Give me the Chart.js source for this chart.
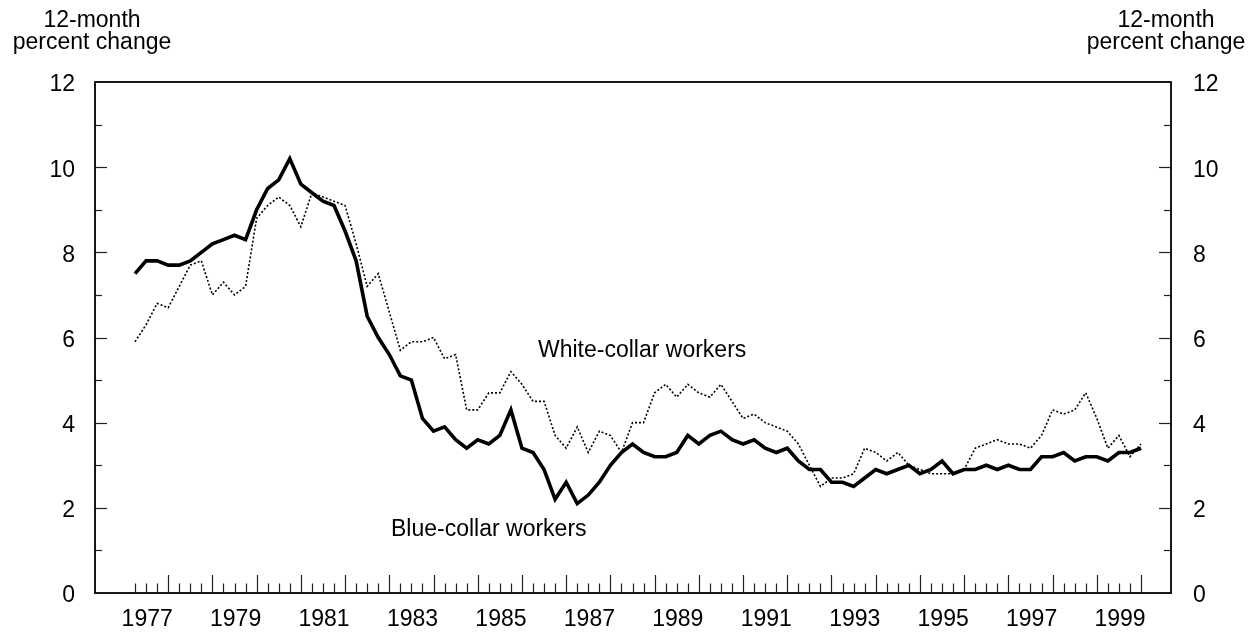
<!DOCTYPE html>
<html><head><meta charset="utf-8">
<script src="https://cdn.jsdelivr.net/npm/chart.js@4.4.1/dist/chart.umd.min.js"></script>
<style>html,body{margin:0;padding:0;background:#fff;}canvas{display:block;}</style>
</head><body>
<canvas id="c" width="1260" height="634"></canvas>
<script>
// Quarterly observations, 1977 through 1999 (4 per year)
const years = [1977,1978,1979,1980,1981,1982,1983,1984,1985,1986,1987,1988,1989,1990,1991,1992,1993,1994,1995,1996,1997,1998,1999];
const xTickLabels = ['1977','1979','1981','1983','1985','1987','1989','1991','1993','1995','1997','1999'];
const yTickValues = [0,2,4,6,8,10,12];

const blueCollar = [
  7.5,7.8,7.8,7.7, 7.7,7.8,8.0,8.2, 8.3,8.4,8.3,9.0, 9.5,9.7,10.2,9.6,
  9.4,9.2,9.1,8.5, 7.8,6.5,6.0,5.6, 5.1,5.0,4.1,3.8, 3.9,3.6,3.4,3.6,
  3.5,3.7,4.3,3.4, 3.3,2.9,2.2,2.6, 2.1,2.3,2.6,3.0, 3.3,3.5,3.3,3.2,
  3.2,3.3,3.7,3.5, 3.7,3.8,3.6,3.5, 3.6,3.4,3.3,3.4, 3.1,2.9,2.9,2.6,
  2.6,2.5,2.7,2.9, 2.8,2.9,3.0,2.8, 2.9,3.1,2.8,2.9, 2.9,3.0,2.9,3.0,
  2.9,2.9,3.2,3.2, 3.3,3.1,3.2,3.2, 3.1,3.3,3.3,3.4
];
const whiteCollar = [
  5.9,6.3,6.8,6.7, 7.2,7.7,7.8,7.0, 7.3,7.0,7.2,8.8, 9.1,9.3,9.1,8.6,
  9.4,9.3,9.2,9.1, 8.2,7.2,7.5,6.6, 5.7,5.9,5.9,6.0, 5.5,5.6,4.3,4.3,
  4.7,4.7,5.2,4.9, 4.5,4.5,3.7,3.4, 3.9,3.3,3.8,3.7, 3.3,4.0,4.0,4.7,
  4.9,4.6,4.9,4.7, 4.6,4.9,4.5,4.1, 4.2,4.0,3.9,3.8, 3.5,3.0,2.5,2.7,
  2.7,2.8,3.4,3.3, 3.1,3.3,3.0,2.9, 2.8,2.8,2.8,2.9, 3.4,3.5,3.6,3.5,
  3.5,3.4,3.7,4.3, 4.2,4.3,4.7,4.1, 3.4,3.7,3.2,3.5
];

const FONT = "'Liberation Sans', Arial, Helvetica, sans-serif";
const FS = 23;

const decor = {
  id: 'decor',
  afterDatasetsDraw(chart) {
    const ctx = chart.ctx, a = chart.chartArea;
    const xs = chart.scales.x, ys = chart.scales.y;
    ctx.save();
    // quarter tick marks on bottom axis
    ctx.strokeStyle = '#222'; ctx.lineWidth = 1.2;
    const nq = years.length * 4;
    for (let i = 0; i < nq; i++) {
      const px = Math.round(xs.getPixelForValue(i)) + 0.5;
      const len = (i % 4 === 3) ? 18 : 9.5;
      ctx.beginPath(); ctx.moveTo(px, a.bottom); ctx.lineTo(px, a.bottom - len); ctx.stroke();
    }
    // y tick marks both sides
    for (let v = 1; v < 12; v++) {
      const py = Math.round(ys.getPixelForValue(v)) + 0.5;
      const len = (v % 2 === 0) ? 12 : 7;
      ctx.beginPath(); ctx.moveTo(a.left, py); ctx.lineTo(a.left + len, py); ctx.stroke();
      ctx.beginPath(); ctx.moveTo(a.right, py); ctx.lineTo(a.right - len, py); ctx.stroke();
    }
    // frame
    ctx.strokeStyle = '#000'; ctx.lineWidth = 1.8;
    ctx.strokeRect(a.left, a.top, a.right - a.left, a.bottom - a.top);
    // text
    ctx.fillStyle = '#000';
    ctx.font = FS + 'px ' + FONT;
    ctx.textBaseline = 'alphabetic';
    ctx.textAlign = 'center';
    ctx.fillText('12-month', 92, 26.5);
    ctx.fillText('percent change', 92, 49);
    ctx.fillText('12-month', 1166, 26.5);
    ctx.fillText('percent change', 1166, 49);
    ctx.textAlign = 'left';
    ctx.fillText('White-collar workers', 538, 357);
    ctx.fillText('Blue-collar workers', 391, 536);
    ctx.restore();
  }
};

new Chart(document.getElementById('c').getContext('2d'), {
  type: 'line',
  data: {
    datasets: [
      { label: 'Blue-collar workers', data: blueCollar.map((v, i) => ({ x: i, y: v })),
        borderColor: '#000', borderWidth: 3.6, pointRadius: 0, tension: 0, yAxisID: 'y', fill: false },
      { label: 'White-collar workers', data: whiteCollar.map((v, i) => ({ x: i, y: v })),
        borderColor: '#000', borderWidth: 1.6, borderDash: [2, 2], pointRadius: 0, tension: 0, yAxisID: 'y', fill: false }
    ]
  },
  options: {
    responsive: false, animation: false,
    layout: { padding: { top: 82, left: 0, right: 0, bottom: 0 } },
    plugins: { legend: { display: false }, tooltip: { enabled: false } },
    scales: {
      x: {
        type: 'linear', min: -3.62, max: 93.71, bounds: 'data',
        grid: { display: false }, border: { display: false },
        afterBuildTicks: s => { s.ticks = xTickLabels.map((l, k) => ({ value: 8 * k + 1.1 })); },
        ticks: { autoSkip: false, maxRotation: 0, padding: 5, color: '#000',
          font: { family: FONT, size: FS }, callback: (v, i) => xTickLabels[i] },
        afterFit: s => { s.height = 41; }
      },
      y: {
        position: 'left', min: 0, max: 12,
        afterBuildTicks: s => { s.ticks = yTickValues.map(v => ({ value: v })); },
        grid: { display: false }, border: { display: false },
        ticks: { padding: 12, labelOffset: 3, color: '#000', font: { family: FONT, size: FS } },
        afterFit: s => { s.width = 95; }
      },
      y2: {
        position: 'right', min: 0, max: 12,
        afterBuildTicks: s => { s.ticks = yTickValues.map(v => ({ value: v })); },
        grid: { display: false }, border: { display: false },
        ticks: { padding: 14, labelOffset: 3, color: '#000', font: { family: FONT, size: FS } },
        afterFit: s => { s.width = 89; }
      }
    }
  },
  plugins: [decor]
});
</script>
</body></html>
